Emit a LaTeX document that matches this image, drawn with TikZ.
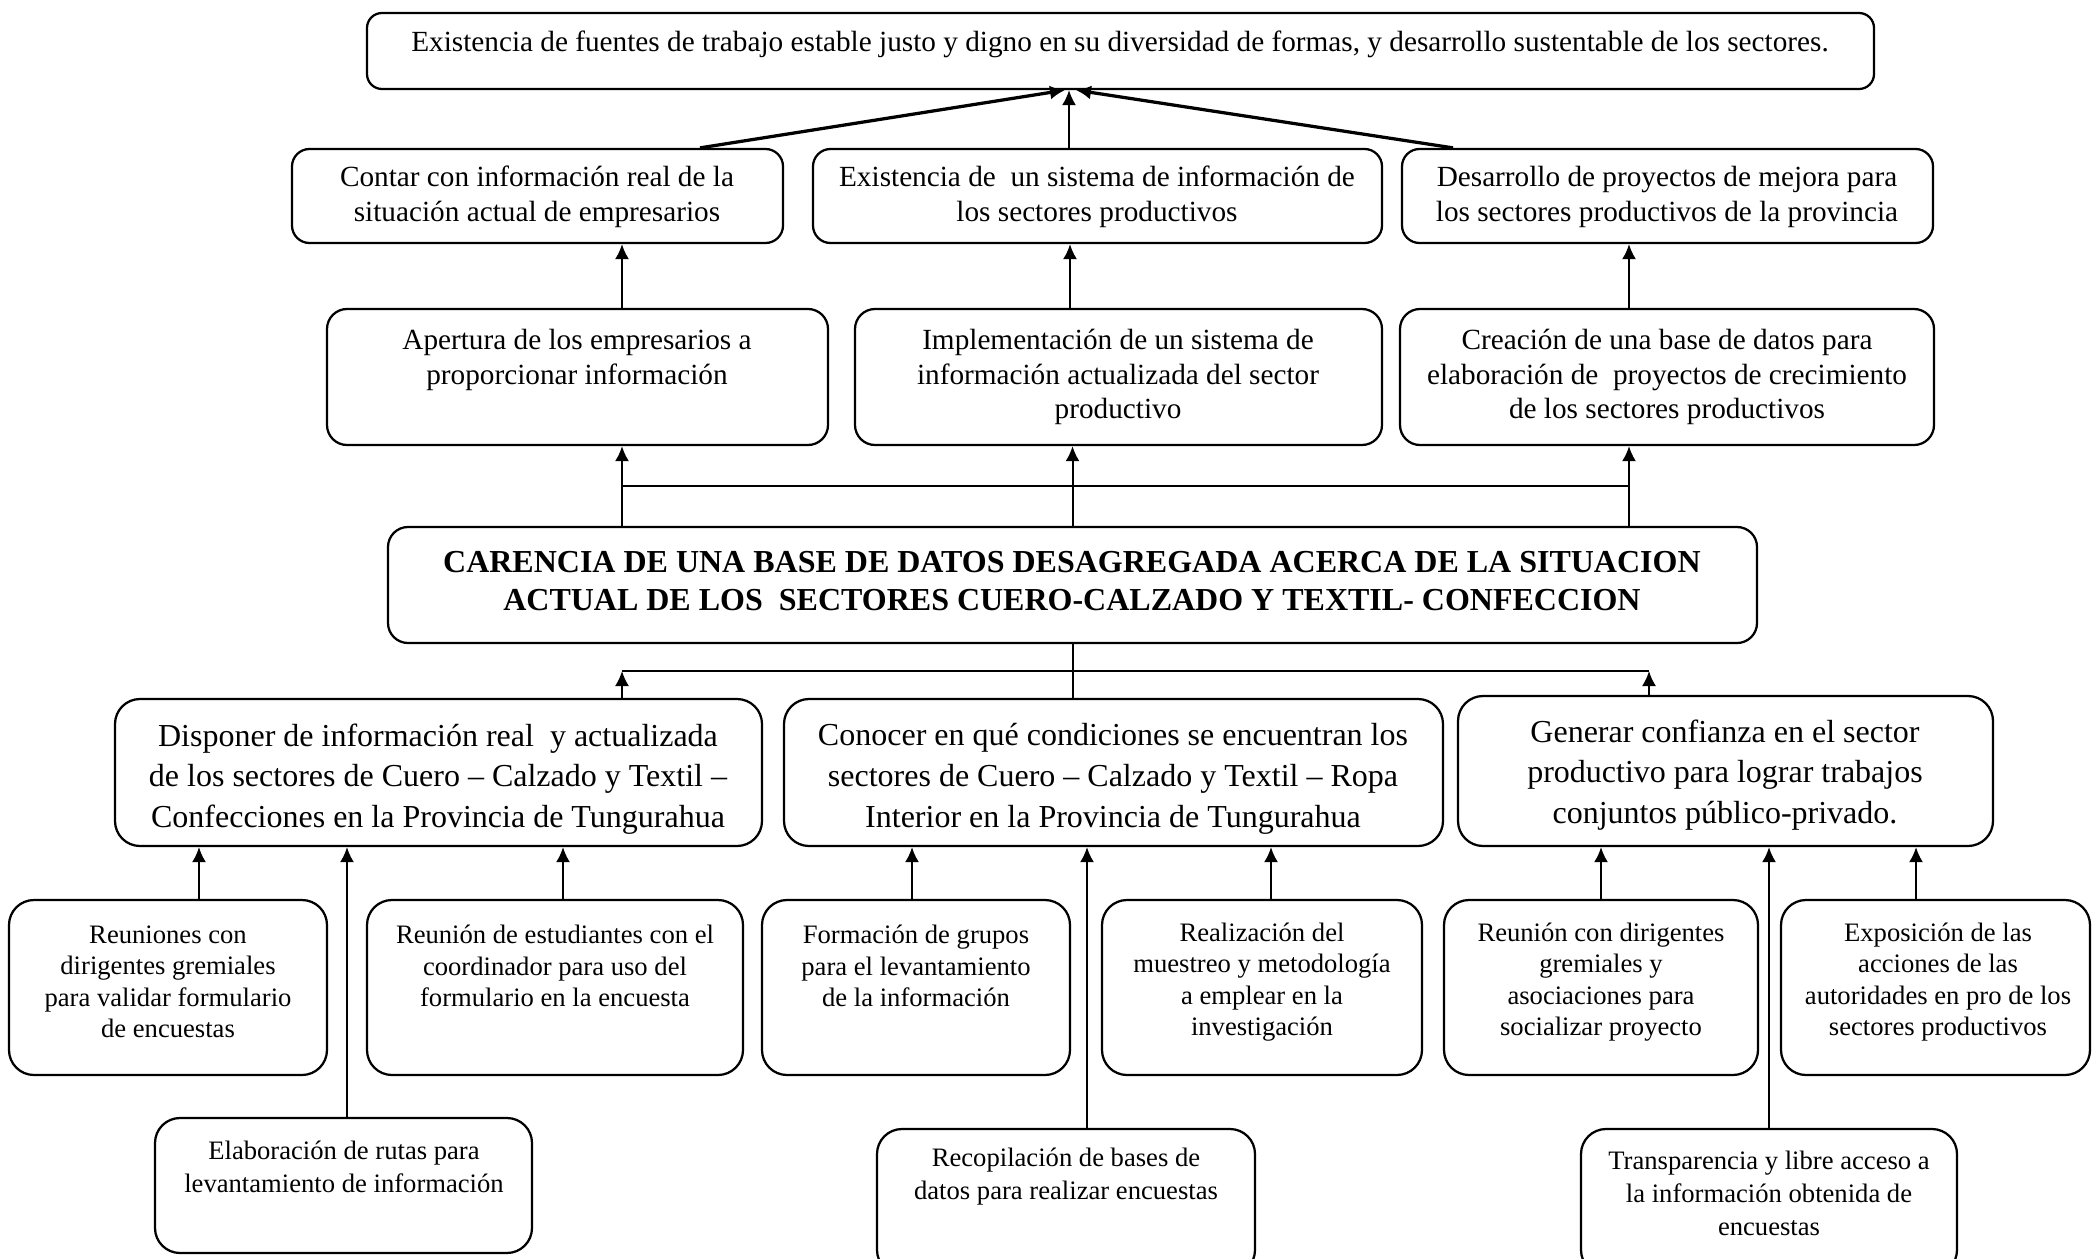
\documentclass[tikz,border=0pt]{standalone}
\usepackage{fontspec}
\setmainfont{Liberation Serif}
\usetikzlibrary{arrows.meta,fit,calc}

\begin{document}
\begin{tikzpicture}
	[	x=0.4pt, y=-0.4pt,
		caja/.style={rectangle, rounded corners=10pt, draw=black, line width=0.9pt, inner sep=0pt},
		txt/.style={align=center, inner sep=0pt},
		tnorm/.style={txt, font=\fontsize{11.7}{13.9}\selectfont},
		tcausa/.style={txt, font=\fontsize{12.8}{16.3}\selectfont},
		tprob/.style={txt, font=\fontsize{12.8}{15.5}\selectfont\bfseries},
		tact/.style={txt, font=\fontsize{10.65}{12.6}\selectfont},
		tact2/.style={txt, font=\fontsize{10.65}{13.2}\selectfont},
		flecha/.style={-{Latex[length=6pt,width=5.6pt]}, line width=0.8pt},
		linea/.style={line width=0.8pt}
	]
	\useasboundingbox (0,0) rectangle (2092,1259);
	\clip (0,0) rectangle (2092,1259);

	% fin
	\node[caja, rounded corners=6pt, fit={(367,13) (1874,89)}] (fin) {};
	\node[tnorm] (fin-t) at (1120,44) {Existencia de fuentes de trabajo estable justo y digno en su diversidad de formas, y desarrollo sustentable de los sectores.};

	% efectos
	\node[caja, rounded corners=7pt, fit={(292,149) (783,243)}] (ef1) {};
	\node[caja, rounded corners=7pt, fit={(813,149) (1382,243)}] (ef2) {};
	\node[caja, rounded corners=7pt, fit={(1402,149) (1933,243)}] (ef3) {};
	\node[tnorm] (ef1-t) at (537,197) {Contar con información real de la\\situación actual de empresarios};
	\node[tnorm] (ef2-t) at (1097,197) {Existencia de\ \ un sistema de información de\\los sectores productivos};
	\node[tnorm] (ef3-t) at (1667,197) {Desarrollo de proyectos de mejora para\\los sectores productivos de la provincia};

	\node[caja, rounded corners=8pt, fit={(327,309) (828,445)}] (ed1) {};
	\node[caja, rounded corners=8pt, fit={(855,309) (1382,445)}] (ed2) {};
	\node[caja, rounded corners=8pt, fit={(1400,309) (1934,445)}] (ed3) {};
	\node[tnorm] (ed1-t) at (577,360) {Apertura de los empresarios a\\proporcionar información};
	\node[tnorm] (ed2-t) at (1118,377) {Implementación de un sistema de\\información actualizada del sector\\productivo};
	\node[tnorm] (ed3-t) at (1667,377) {Creación de una base de datos para\\elaboración de\ \ proyectos de crecimiento\\de los sectores productivos};

	% problema
	\node[caja, rounded corners=8pt, fit={(388,527) (1757,643)}] (prob) {};
	\node[tprob] (prob-t) at (1072,581) {CARENCIA DE UNA BASE DE DATOS DESAGREGADA ACERCA DE LA SITUACION\\ACTUAL DE LOS\ \ SECTORES CUERO-CALZADO Y TEXTIL- CONFECCION};

	% causas
	\node[caja, fit={(115,699) (762,846)}] (ca1) {};
	\node[caja, fit={(784,699) (1443,846)}] (ca2) {};
	\node[caja, fit={(1458,696) (1993,846)}] (ca3) {};
	\node[tcausa] (ca1-t) at (438,779) {Disponer de información real\ \ y actualizada\\de los sectores de Cuero -- Calzado y Textil --\\Confecciones en la Provincia de Tungurahua};
	\node[tcausa] (ca2-t) at (1113,779) {Conocer en qué condiciones se encuentran los\\sectores de Cuero -- Calzado y Textil -- Ropa\\Interior en la Provincia de Tungurahua};
	\node[tcausa] (ca3-t) at (1725,775) {Generar confianza en el sector\\productivo para lograr trabajos\\conjuntos público-privado.};

	% actividades
	\node[caja, fit={(9,900) (327,1075)}] (ac1) {};
	\node[caja, fit={(367,900) (743,1075)}] (ac2) {};
	\node[caja, fit={(155,1118) (532,1253)}] (ac3) {};
	\node[caja, fit={(762,900) (1070,1075)}] (ac4) {};
	\node[caja, fit={(1102,900) (1422,1075)}] (ac5) {};
	\node[caja, fit={(877,1129) (1255,1275)}] (ac6) {};
	\node[caja, fit={(1444,900) (1758,1075)}] (ac7) {};
	\node[caja, fit={(1781,900) (2090,1075)}] (ac8) {};
	\node[caja, fit={(1581,1129) (1957,1275)}] (ac9) {};
	\node[tact] (ac1-t) at (168,982) {Reuniones con\\dirigentes gremiales\\para validar formulario\\de encuestas};
	\node[tact] (ac2-t) at (555,966) {Reunión de estudiantes con el\\coordinador para uso del\\formulario en la encuesta};
	\node[tact2] (ac3-t) at (344,1167) {Elaboración de rutas para\\levantamiento de información};
	\node[tact] (ac4-t) at (916,966) {Formación de grupos\\para el levantamiento\\de la información};
	\node[tact] (ac5-t) at (1262,982) {Realización del\\muestreo y metodología\\a emplear en la\\investigación};
	\node[tact2] (ac6-t) at (1066,1177) {Recopilación de bases de\\datos para realizar encuestas};
	\node[tact] (ac7-t) at (1601,982) {Reunión con dirigentes\\gremiales y\\asociaciones para\\socializar proyecto};
	\node[tact] (ac8-t) at (1938,982) {Exposición de las\\acciones de las\\autoridades en pro de los\\sectores productivos};
	\node[tact2] (ac9-t) at (1769,1193) {Transparencia y libre acceso a\\la información obtenida de\\encuestas};

	% conectores arriba
	\draw[flecha, line width=1.3pt] ([xshift=65pt]ef1.north) -- ([xshift=-22.2pt]fin.south);
	\draw[flecha] ([xshift=-11.4pt]ef2.north) -- ([xshift=-11.4pt]ef2.north |- fin.south);
	\draw[flecha, line width=1.3pt] ([xshift=-85.8pt]ef3.north) -- ([xshift=-17.8pt]fin.south);

	\draw[flecha] ([xshift=17.8pt]ed1.north) -- ([xshift=17.8pt]ed1.north |- ef1.south);
	\draw[flecha] ([xshift=-19.4pt]ed2.north) -- ([xshift=-19.4pt]ed2.north |- ef2.south);
	\draw[flecha] ([xshift=-15.2pt]ed3.north) -- ([xshift=-15.2pt]ed3.north |- ef3.south);

	\coordinate (alto) at ($(prob.north)!.5!(ed2.south)$);
	\draw[flecha] ([xshift=17.8pt]ed1.south |- prob.north) -- ([xshift=17.8pt]ed1.south);
	\draw[flecha] (prob.north) -- (prob.north |- ed2.south);
	\draw[flecha] ([xshift=-15.2pt]ed3.south |- prob.north) -- ([xshift=-15.2pt]ed3.south);
	\draw[linea] ([xshift=17.8pt]ed1.south |- alto) -- ([xshift=-15.2pt]ed3.south |- alto);

	% conectores abajo
	\coordinate (bajo) at ($(prob.south)!.5!(ca2.north)$);
	\draw[linea] (prob.south) -- (prob.south |- ca2.north);
	\draw[linea] ([xshift=73.4pt]ca1.north |- bajo) -- ([xshift=-30.6pt]ca3.north |- bajo);
	\draw[flecha] ([xshift=73.4pt]ca1.north) -- ([xshift=73.4pt]ca1.north |- bajo);
	\draw[flecha] ([xshift=-30.6pt]ca3.north) -- ([xshift=-30.6pt]ca3.north |- bajo);

	\draw[flecha] ([xshift=12.4pt]ac1.north) -- ([xshift=12.4pt]ac1.north |- ca1.south);
	\draw[flecha] ([xshift=1.4pt]ac3.north) -- ([xshift=1.4pt]ac3.north |- ca1.south);
	\draw[flecha] ([xshift=3.2pt]ac2.north) -- ([xshift=3.2pt]ac2.north |- ca1.south);
	\draw[flecha] ([xshift=-1.6pt]ac4.north) -- ([xshift=-1.6pt]ac4.north |- ca2.south);
	\draw[flecha] ([xshift=8.4pt]ac6.north) -- ([xshift=8.4pt]ac6.north |- ca2.south);
	\draw[flecha] ([xshift=3.6pt]ac5.north) -- ([xshift=3.6pt]ac5.north |- ca2.south);
	\draw[flecha] (ac7.north) -- (ac7.north |- ca3.south);
	\draw[flecha] (ac9.north) -- (ac9.north |- ca3.south);
	\draw[flecha] ([xshift=-7.8pt]ac8.north) -- ([xshift=-7.8pt]ac8.north |- ca3.south);
\end{tikzpicture}
\end{document}
